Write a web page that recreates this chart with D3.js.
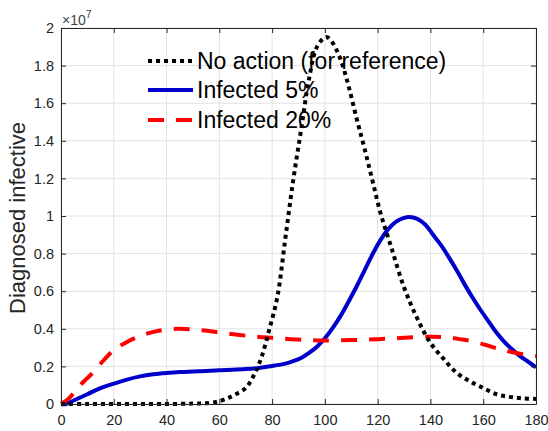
<!DOCTYPE html>
<html>
<head>
<meta charset="utf-8">
<script src="https://cdn.jsdelivr.net/npm/d3@7"></script>
<style>
  body { margin: 0; background: #fff; }
  svg { display: block; font-family: "Liberation Sans", Arial, sans-serif; }
</style>
</head>
<body>
<svg id="chart" width="548" height="431"></svg>
<script>
// Days since start, and diagnosed infective counts (in units of 1e7)
const noActionDays = [0, 10, 20, 30, 40, 50, 56, 60, 63, 66, 70, 73, 76, 79, 82, 85, 88, 91, 94, 97, 100, 101, 103, 106, 109, 112, 115, 118, 121, 125, 130, 135, 140, 145, 150, 155, 160, 165, 170, 175, 180];
const noActionVals = [0, 0, 0, 0, 0, 0.002, 0.005, 0.015, 0.03, 0.05, 0.085, 0.15, 0.25, 0.40, 0.57, 0.88, 1.19, 1.46, 1.73, 1.90, 1.95, 1.95, 1.92, 1.83, 1.69, 1.52, 1.36, 1.19, 1.02, 0.84, 0.62, 0.455, 0.325, 0.24, 0.165, 0.12, 0.085, 0.052, 0.038, 0.03, 0.027];

const infected5Days = [0, 2, 5, 10, 15, 20, 25, 30, 35, 40, 45, 50, 55, 60, 65, 70, 75, 80, 85, 88, 91, 94, 97, 100, 103, 106, 109, 112, 115, 118, 121, 124, 127, 130, 132, 135, 138, 141, 144, 147, 150, 153, 156, 159, 162, 165, 168, 171, 174, 177, 180];
const infected5Vals = [0, 0, 0.02, 0.052, 0.085, 0.108, 0.13, 0.147, 0.158, 0.165, 0.17, 0.173, 0.176, 0.179, 0.182, 0.186, 0.192, 0.202, 0.215, 0.228, 0.245, 0.272, 0.305, 0.35, 0.405, 0.47, 0.545, 0.625, 0.71, 0.795, 0.87, 0.93, 0.97, 0.99, 0.995, 0.985, 0.955, 0.90, 0.845, 0.78, 0.71, 0.635, 0.565, 0.50, 0.44, 0.38, 0.33, 0.29, 0.255, 0.225, 0.195];

const infected20Days = [0, 3, 6, 9, 12, 16, 20, 25, 31, 37, 44, 50, 56, 62, 69, 75, 80, 87, 94, 100, 110, 120, 130, 140, 146, 151, 157, 163, 168, 173, 180];
const infected20Vals = [0, 0.03, 0.08, 0.125, 0.165, 0.23, 0.287, 0.33, 0.367, 0.39, 0.40, 0.397, 0.388, 0.377, 0.365, 0.357, 0.352, 0.345, 0.34, 0.338, 0.34, 0.345, 0.352, 0.358, 0.355, 0.345, 0.33, 0.305, 0.285, 0.27, 0.255];

const xTicks = [0, 20, 40, 60, 80, 100, 120, 140, 160, 180];
const yTicks = [0, 0.2, 0.4, 0.6, 0.8, 1, 1.2, 1.4, 1.6, 1.8, 2];

const seriesNames = ["No action (for reference)", "Infected 5%", "Infected 20%"];
const seriesColors = ["#000000", "#0000cc", "#ff0000"];
const seriesDash = ["4,4", null, "16,12"];

const yAxisTitle = "Diagnosed infective";

const svg = d3.select("#chart");
const margin = { left: 61, right: 12, top: 28, bottom: 27 };
const W = 548, H = 431;
const x = d3.scaleLinear().domain([0, 180]).range([margin.left, W - margin.right]);
const y = d3.scaleLinear().domain([0, 2]).range([H - margin.bottom, margin.top]);

const textColor = "#262626";
const axisColor = "#262626";

// Grid
const grid = svg.append("g");
grid.selectAll("line.gx").data(xTicks).join("line")
  .attr("x1", d => x(d)).attr("x2", d => x(d))
  .attr("y1", y(0)).attr("y2", y(2))
  .attr("stroke", "#e3e3e3").attr("stroke-width", 1);
grid.selectAll("line.gy").data(yTicks).join("line")
  .attr("x1", x(0)).attr("x2", x(180))
  .attr("y1", d => y(d)).attr("y2", d => y(d))
  .attr("stroke", "#e3e3e3").attr("stroke-width", 1);

// Curves
const line = d3.line().x(d => x(d[0])).y(d => y(d[1])).curve(d3.curveCatmullRom.alpha(0.5));
const seriesData = [
  d3.zip(noActionDays, noActionVals),
  d3.zip(infected5Days, infected5Vals),
  d3.zip(infected20Days, infected20Vals)
];
// draw order: blue, red, black on top
[1, 2, 0].forEach(i => {
  svg.append("path")
    .datum(seriesData[i])
    .attr("d", line)
    .attr("fill", "none")
    .attr("stroke", seriesColors[i])
    .attr("stroke-width", 4)
    .attr("stroke-dasharray", seriesDash[i])
    .attr("stroke-linejoin", "round");
});

// Axes (ticks inward on all four sides)
function styleAxis(g) {
  g.selectAll("path").attr("stroke", axisColor).attr("stroke-width", 1);
  g.selectAll("line").attr("stroke", axisColor);
  g.selectAll("text").attr("fill", textColor).style("font-size", "14.5px")
    .style("font-family", "'Liberation Sans', Arial, sans-serif");
}
const fmt = d => d3.format("~g")(d);
svg.append("g").attr("transform", `translate(0,${y(0)})`)
  .call(d3.axisBottom(x).tickValues(xTicks).tickSizeInner(-5).tickSizeOuter(0).tickPadding(11).tickFormat(fmt))
  .call(styleAxis);
svg.append("g").attr("transform", `translate(0,${y(2)})`)
  .call(d3.axisTop(x).tickValues(xTicks).tickSizeInner(-5).tickSizeOuter(0).tickFormat(""))
  .call(styleAxis);
svg.append("g").attr("transform", `translate(${x(0)},0)`)
  .call(d3.axisLeft(y).tickValues(yTicks).tickSizeInner(-5).tickSizeOuter(0).tickPadding(7).tickFormat(fmt))
  .call(styleAxis);
svg.append("g").attr("transform", `translate(${x(180)},0)`)
  .call(d3.axisRight(y).tickValues(yTicks).tickSizeInner(-5).tickSizeOuter(0).tickFormat(""))
  .call(styleAxis);

// Exponent label
const expo = svg.append("text").attr("x", x(0) + 1).attr("y", 25)
  .attr("fill", "#404040").style("font-size", "14px");
expo.append("tspan").text("×10");
expo.append("tspan").attr("dy", -7).style("font-size", "10.5px").text("7");

// Y axis title
svg.append("text")
  .attr("transform", `translate(25,${(y(0) + y(2)) / 2 + 2}) rotate(-90)`)
  .attr("text-anchor", "middle")
  .attr("fill", textColor)
  .style("font-size", "22px")
  .text(yAxisTitle);

// Legend
const legend = svg.append("g");
const rowY = [61, 90, 120];
seriesNames.forEach((name, i) => {
  legend.append("line")
    .attr("x1", 148).attr("x2", 193)
    .attr("y1", rowY[i]).attr("y2", rowY[i])
    .attr("stroke", seriesColors[i]).attr("stroke-width", 4)
    .attr("stroke-dasharray", seriesDash[i]);
  legend.append("text")
    .attr("x", 197).attr("y", rowY[i] + 8)
    .attr("fill", "#000")
    .style("font-size", "23px")
    .text(name);
});
</script>
</body>
</html>
